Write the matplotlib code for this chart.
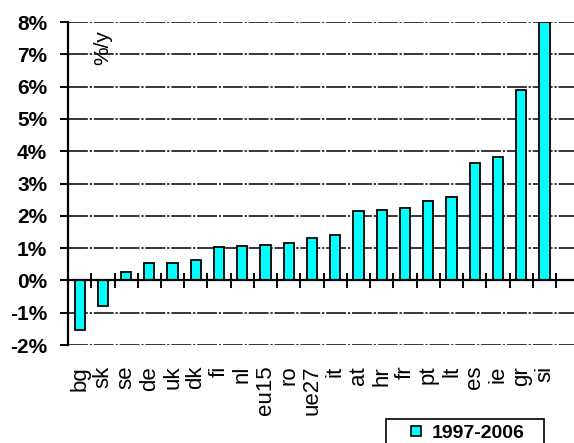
import matplotlib.pyplot as plt
from matplotlib.lines import Line2D
import numpy as np

plt.rcParams['font.family'] = ['Liberation Sans', 'DejaVu Sans']

# Data
countries = ['bg', 'sk', 'se', 'de', 'uk', 'dk', 'fi', 'nl', 'eu15', 'ro', 'ue27',
             'it', 'at', 'hr', 'fr', 'pt', 'lt', 'es', 'ie', 'gr', 'si']
growth = [-1.54, -0.78, 0.26, 0.53, 0.53, 0.64, 1.03, 1.08, 1.11, 1.17, 1.32,
          1.42, 2.15, 2.19, 2.24, 2.47, 2.57, 3.62, 3.82, 5.88, 8.0]
yticks = [-2, -1, 0, 1, 2, 3, 4, 5, 6, 7, 8]
series_name = '1997-2006'

x = np.arange(len(countries))

fig = plt.figure(figsize=(5.74, 4.43), dpi=100)
ax = fig.add_axes([0.1185, 0.2212, 0.8815, 0.7291])

# dash-dot gridlines
for v in yticks:
    if v != 0:
        ax.axhline(v, color='black', lw=1.1, dashes=(13, 1.2, 1.5, 1.2), zorder=1)

ax.bar(x, growth, width=0.44, color='#00ffff', edgecolor='black', lw=1.3, zorder=3)

# zero line with category separators
ax.axhline(0, color='black', lw=1.6, zorder=4)
ax.vlines(x + 0.5, -0.22, 0.22, color='black', lw=1.4, zorder=4)

ax.set_xlim(-0.5, 21.27)
ax.set_ylim(-2, 8)
ax.set_yticks(yticks)
ax.set_yticklabels([f'{v}%' for v in yticks], fontweight='bold', fontsize=15)
ax.tick_params(axis='y', length=6, width=1.4, pad=9)

ax.set_xticks(x)
ax.set_xticklabels(countries, rotation=90, fontsize=16, va='top')
ax.tick_params(axis='x', length=0, pad=15)

for s in ['top', 'right', 'bottom']:
    ax.spines[s].set_visible(False)
ax.spines['left'].set_linewidth(1.6)

ax.text(0.068, 0.92, '%/y', transform=ax.transAxes, rotation=90,
        fontsize=15, ha='center', va='center')

handle = Line2D([], [], marker='s', linestyle='none', markersize=7.5,
                markerfacecolor='#00ffff', markeredgecolor='black', markeredgewidth=1.2)
leg = fig.legend([handle], [series_name], loc='upper left',
                 bbox_to_anchor=(0.672, -0.2, 0.276, 0.254), mode='expand',
                 prop={'weight': 'bold', 'size': 14}, frameon=True, fancybox=False,
                 edgecolor='black', framealpha=1, borderpad=0.25, borderaxespad=0,
                 handlelength=2.6, handletextpad=-0.5)
leg.get_frame().set_linewidth(1.2)

fig.savefig('out.png', dpi=100)
